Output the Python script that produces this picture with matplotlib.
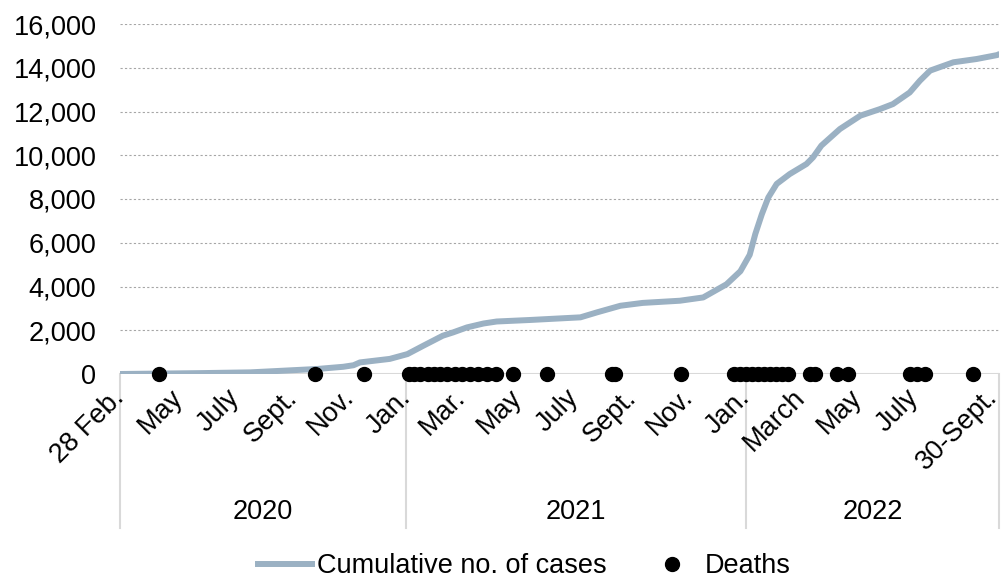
import matplotlib
matplotlib.use("Agg")
import matplotlib.pyplot as plt
import matplotlib.dates as mdates
import matplotlib.transforms as mtransforms
from matplotlib.lines import Line2D
import datetime as dt

plt.rcParams['font.family'] = ['Liberation Sans', 'DejaVu Sans']

# ---- data ----
case_dates = ["2020-02-28", "2020-05-24", "2020-07-17", "2020-08-21", "2020-09-27",
              "2020-10-25", "2020-11-05", "2020-11-12", "2020-12-14", "2021-01-02",
              "2021-01-19", "2021-02-09", "2021-02-20", "2021-03-07", "2021-03-25",
              "2021-04-08", "2021-05-14", "2021-07-07", "2021-07-25",
              "2021-08-19", "2021-09-12", "2021-10-22", "2021-11-16", "2021-12-11",
              "2021-12-26", "2022-01-05", "2022-01-11", "2022-01-18", "2022-01-25",
              "2022-02-03", "2022-02-17", "2022-03-07", "2022-03-14", "2022-03-23",
              "2022-04-12", "2022-05-04", "2022-05-25", "2022-06-08", "2022-06-26",
              "2022-07-07", "2022-07-18", "2022-08-12", "2022-09-06", "2022-09-28",
              "2022-09-30"]
case_values = [0, 40, 75, 150, 230,
               330, 400, 530, 690, 910,
               1290, 1750, 1900, 2130, 2310,
               2400, 2470, 2590, 2820,
               3120, 3250, 3350, 3500, 4100,
               4700, 5450, 6400, 7300, 8070,
               8690, 9140, 9600, 9900, 10440,
               11200, 11810, 12110, 12340, 12870,
               13410, 13870, 14250, 14400, 14580,
               14620]

death_dates = ["2020-04-10", "2020-09-25", "2020-11-16",
               "2021-01-04", "2021-01-09", "2021-01-16", "2021-01-24", "2021-01-31",
               "2021-02-06", "2021-02-14", "2021-02-22", "2021-03-02", "2021-03-10",
               "2021-03-19", "2021-03-29", "2021-04-07", "2021-04-26", "2021-06-01",
               "2021-08-10", "2021-08-13", "2021-10-23",
               "2021-12-19", "2021-12-26", "2022-01-01", "2022-01-07", "2022-01-14",
               "2022-01-20", "2022-01-27", "2022-02-02", "2022-02-09", "2022-02-15",
               "2022-03-11", "2022-03-16", "2022-04-09", "2022-04-21",
               "2022-06-26", "2022-07-04", "2022-07-12", "2022-09-02"]
death_values = [0] * len(death_dates)

tick_dates = ["2020-02-28", "2020-05-01", "2020-07-01", "2020-09-01", "2020-11-01",
              "2021-01-01", "2021-03-01", "2021-05-01", "2021-07-01", "2021-09-01",
              "2021-11-01", "2022-01-01", "2022-03-01", "2022-05-01", "2022-07-01",
              "2022-09-30"]
tick_labels = ["28 Feb.", "May", "July", "Sept.", "Nov.",
               "Jan.", "Mar.", "May", "July", "Sept.",
               "Nov.", "Jan.", "March", "May", "July",
               "30-Sept."]
years = ["2020", "2021", "2022"]
year_bounds = ["2020-02-28", "2021-01-01", "2022-01-01", "2022-09-30"]
y_ticks = [0, 2000, 4000, 6000, 8000, 10000, 12000, 14000, 16000]

series_labels = ["Cumulative no. of cases", "Deaths"]


def to_num(lst):
    return mdates.date2num([dt.datetime.strptime(s, "%Y-%m-%d") for s in lst])


cx = to_num(case_dates)
dx = to_num(death_dates)
tx = to_num(tick_dates)
yb = to_num(year_bounds)

FS = 19.5
fig = plt.figure(figsize=(10.01, 5.78), dpi=100)
ax = fig.add_axes([120/1001, (578-374)/578, 879/1001, 350/578])

line_color = "#9bb1c3"
ax.plot(cx, case_values, color=line_color, lw=4.3, solid_capstyle='round',
        solid_joinstyle='round', zorder=3)
ax.plot(dx, death_values, 'o', color='black', ms=10, zorder=4, clip_on=False)

ax.set_xlim(tx[0], tx[-1])
ax.set_ylim(0, 16000)
ax.set_yticks(y_ticks)
ax.set_yticklabels([f"{v:,}" for v in y_ticks], fontsize=FS)
ax.tick_params(axis='y', length=0, pad=17)

for v in y_ticks[1:]:
    ax.axhline(v, color='#a6a6a6', lw=0.8, ls=(0, (2, 2)), zorder=1)
ax.axhline(0, color='#d9d9d9', lw=1.5, zorder=1)

for s in ax.spines.values():
    s.set_visible(False)

ax.set_xticks(tx)
ax.set_xticklabels(tick_labels, rotation=45, ha='right', va='center',
                   rotation_mode='anchor', fontsize=FS)
ax.tick_params(axis='x', length=0, pad=14)
last = ax.get_xticklabels()[-1]
last.set_transform(last.get_transform() +
                   mtransforms.ScaledTranslation(-6/100, 0, fig.dpi_scale_trans))

trans = mtransforms.blended_transform_factory(ax.transData, ax.transAxes)
for b in yb:
    ax.plot([b, b], [0, -0.44], color='#d9d9d9', lw=1.5, transform=trans,
            clip_on=False, zorder=1)
for i, y in enumerate(years):
    mid = (yb[i] + yb[i+1]) / 2
    ax.text(mid, -0.395, y, transform=trans, ha='center', va='center', fontsize=FS)

handles = [Line2D([], [], color=line_color, lw=4.3),
           Line2D([], [], marker='o', color='black', ls='none', ms=10)]
fig.legend(handles, series_labels, loc='center', bbox_to_anchor=(524/1001, 1-566/578),
           ncol=2, frameon=False, fontsize=FS, handlelength=2.0, columnspacing=1.4,
           handletextpad=0.2, borderaxespad=0, borderpad=0)

fig.savefig("out.png", dpi=100)
